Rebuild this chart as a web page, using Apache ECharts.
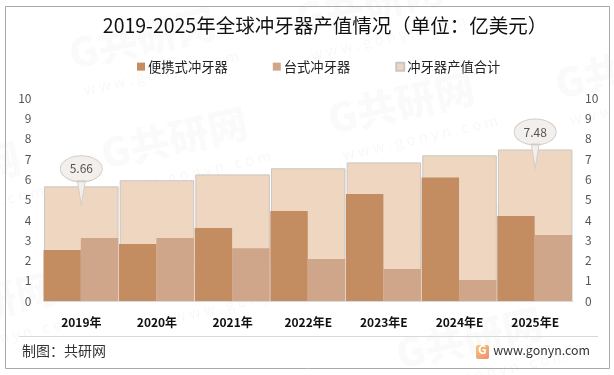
<!DOCTYPE html>
<html>
<head>
<meta charset="utf-8">
<style>html,body{margin:0;padding:0;background:#fff}#chart{width:614px;height:375px}</style>
<script src="https://cdn.jsdelivr.net/npm/echarts@6/dist/echarts.min.js"></script>
</head>
<body>
<div id="chart"></div>
<script>
const years = ['2019年', '2020年', '2021年', '2022年E', '2023年E', '2024年E', '2025年E'];
const portable = [2.52, 2.81, 3.6, 4.44, 5.28, 6.1, 4.2];
const desktop = [3.11, 3.11, 2.6, 2.07, 1.58, 1.04, 3.26];
const total = [5.66, 5.96, 6.25, 6.55, 6.84, 7.19, 7.48];
const yTicks = [0, 10];
const calloutYears = ['2019年', '2025年E'];

const font = '"Noto Sans CJK SC", "Noto Sans", sans-serif';
// ellipse with a tail pointing down
const callout = 'path://M21 0A21 13 0 1 1 21 26A21 13 0 1 1 21 0ZM17 25L21 49L25 25Z';

function watermark(x, y) {
  return {
    type: 'group', x: x, y: y, rotation: 0.22, silent: true, z: 20,
    children: [
      { type: 'text', x: 0, y: 0, style: { text: 'G共研网', font: '900 40px ' + font, fill: 'rgba(0,0,0,0.02)' } },
      { type: 'text', x: 6, y: 50, style: { text: 'w w w . g o n y n . c o m', font: '15px ' + font, fill: 'rgba(0,0,0,0.03)' } }
    ]
  };
}

const chart = echarts.init(document.getElementById('chart'), null, { renderer: 'canvas' });
chart.setOption({
  animation: false,
  backgroundColor: '#fff',
  title: {
    text: '2019-2025年全球冲牙器产值情况（单位：亿美元）',
    left: 320, top: 11, textAlign: 'center',
    textStyle: { fontFamily: font, fontSize: 19.5, fontWeight: 'normal', color: '#111' }
  },
  legend: {
    top: 55, left: 132, itemWidth: 8, itemHeight: 8, itemGap: 45, icon: 'rect',
    textStyle: { fontFamily: font, fontSize: 13.3, color: '#222', padding: [0, 0, 0, -2] },
    data: ['便携式冲牙器', '台式冲牙器', '冲牙器产值合计']
  },
  grid: { left: 43.5, right: 41, top: 98.4, bottom: 74 },
  xAxis: [
    {
      type: 'category', data: years,
      axisTick: { show: false },
      axisLine: { lineStyle: { color: '#d9d9d9', width: 1 } },
      axisLabel: { margin: 15, fontFamily: font, fontSize: 12, fontWeight: 'bold', color: '#111' }
    },
    { type: 'category', data: years, show: false }
  ],
  yAxis: [
    {
      type: 'value', min: yTicks[0], max: yTicks[1], interval: 1,
      splitLine: { show: false }, axisLine: { show: false }, axisTick: { show: false },
      axisLabel: { margin: 12, fontFamily: font, fontSize: 12, color: '#555' }
    },
    {
      type: 'value', min: yTicks[0], max: yTicks[1], interval: 1, position: 'right',
      splitLine: { show: false }, axisLine: { show: false }, axisTick: { show: false },
      axisLabel: { margin: 12, fontFamily: font, fontSize: 12, color: '#555' }
    }
  ],
  series: [
    {
      name: '冲牙器产值合计', type: 'bar', xAxisIndex: 1, yAxisIndex: 0, data: total,
      barWidth: '98.5%', z: 1,
      itemStyle: { color: '#eed6c0', borderColor: '#c9c6c3', borderWidth: 1 },
      markPoint: {
        silent: true,
        symbol: callout,
        symbolSize: [42, 49],
        symbolOffset: [0, -6],
        itemStyle: { color: '#f2efec', borderColor: '#d2cdc8', borderWidth: 1 },
        label: {
          show: true, position: 'inside', offset: [0, -11.5],
          fontFamily: font, fontSize: 12, color: '#555'
        },
        data: calloutYears.map(function (y) {
          const v = total[years.indexOf(y)];
          return { coord: [y, v], value: v };
        })
      }
    },
    {
      name: '便携式冲牙器', type: 'bar', xAxisIndex: 0, yAxisIndex: 0, data: portable,
      barWidth: '49.5%', barGap: 0, z: 2,
      itemStyle: { color: '#c48d61' }
    },
    {
      name: '台式冲牙器', type: 'bar', xAxisIndex: 0, yAxisIndex: 0, data: desktop,
      barWidth: '49.5%', barGap: 0, z: 2,
      itemStyle: { color: '#cfa689' }
    },
    // only here so the right axis gets drawn
    { type: 'bar', yAxisIndex: 1, data: [], silent: true }
  ],
  graphic: [
    // outer frame and footer
    { type: 'rect', shape: { x: 5.5, y: 6.5, width: 604, height: 362 }, style: { fill: 'none', stroke: '#a9a9a9', lineWidth: 1 }, z: 30 },
    { type: 'line', shape: { x1: 19, y1: 336.5, x2: 598, y2: 336.5 }, style: { stroke: '#d9d9d9', lineWidth: 1 }, z: 30 },
    { type: 'text', x: 22, y: 344, style: { text: '制图：共研网', font: '14px ' + font, fill: '#333' }, z: 30 },
    { type: 'text', x: 590, y: 344, style: { text: 'www.gonyn.com', font: '12.4px ' + font, fill: '#333', textAlign: 'right' }, z: 30 },
    {
      type: 'rect', shape: { x: 476, y: 345, width: 13, height: 14, r: 2 },
      style: { fill: new echarts.graphic.LinearGradient(0, 0, 1, 1, [{ offset: 0, color: '#f6c779' }, { offset: 1, color: '#ef8f6f' }]) }, z: 30
    },
    { type: 'text', x: 478, y: 343, style: { text: 'G', font: 'bold 12px ' + font, fill: '#fff' }, z: 31 },
    // watermarks
    watermark(65, 35),
    watermark(292, 0),
    watermark(-130, 170),
    watermark(97, 135),
    watermark(324, 100),
    watermark(551, 65),
    watermark(-95, 300),
    watermark(155, 262),
    watermark(382, 227),
    watermark(609, 192),
    watermark(392, 335)
  ]
});
</script>
</body>
</html>
